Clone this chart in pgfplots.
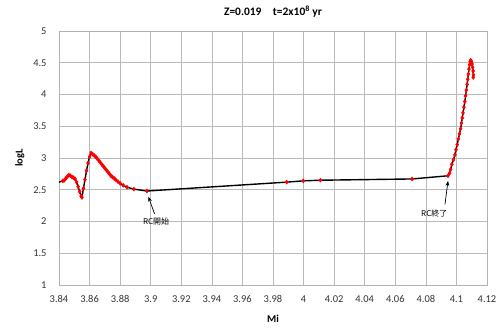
\documentclass[border=0pt]{standalone}
\usepackage{fontspec}
\setmainfont{Carlito}
\newfontfamily\cjk{Noto Sans CJK JP}
\usepackage{pgfplots}
\usetikzlibrary{arrows.meta}
\pgfplotsset{compat=1.18}
\begin{document}
\begin{tikzpicture}
\begin{axis}[
  scale only axis, width=428bp, height=254bp,
  xmin=3.84, xmax=4.12, ymin=1, ymax=5,
  xtick={3.84,3.86,...,4.121}, ytick={1,1.5,...,5.01},
  grid=major, grid style={gray!55, line width=0.6pt},
  axis line style={gray!60}, tick style={draw=none},
  xticklabel style={/pgf/number format/fixed,/pgf/number format/precision=2, yshift=-7pt},
  yticklabel style={/pgf/number format/fixed,/pgf/number format/precision=2, xshift=-9pt},
  /pgf/number format/assume math mode=true,
  ticklabel style={font=\fontsize{10.5}{12}\selectfont, text=black!80},
  xlabel={\textbf{Mi}}, ylabel={\textbf{logL}},
  xlabel style={yshift=-6pt}, ylabel style={yshift=2pt},
  label style={font=\fontsize{10.5}{12}\selectfont},
  title={\textbf{Z=0.019\quad t=2x10$^{\mathbf{8}}$ yr}},
  title style={font=\fontsize{11.5}{13}\selectfont, yshift=4pt},
  clip=false,
]
\addplot[black, line width=1.4pt, mark=diamond*, mark size=2pt,
  mark options={red, draw=red, fill=red, line width=0.5pt}]
coordinates {
(3.8425,2.64) (3.8435,2.65) (3.8445,2.68) (3.8455,2.71) (3.8465,2.73) (3.8475,2.72)
(3.8485,2.70) (3.8495,2.69) (3.8505,2.67) (3.8515,2.62) (3.8525,2.55) (3.8535,2.47)
(3.8545,2.40) (3.8550,2.38) (3.8560,2.52) (3.8570,2.66) (3.8580,2.80) (3.8590,2.92)
(3.8600,3.02) (3.8610,3.08) (3.8620,3.06) (3.8630,3.04) (3.8640,3.02) (3.8650,2.99)
(3.8660,2.96) (3.8670,2.93) (3.8680,2.90) (3.8690,2.87) (3.8700,2.84) (3.8710,2.81)
(3.8720,2.78) (3.8730,2.75) (3.8740,2.72) (3.8750,2.70) (3.8760,2.68) (3.8770,2.66)
(3.8785,2.63) (3.8800,2.60) (3.8820,2.57) (3.8845,2.54) (3.8890,2.51) (3.8975,2.48)
(3.9890,2.62) (3.9998,2.64) (4.0110,2.65) (4.0710,2.67) (4.0945,2.72)
(4.0955,2.76) (4.0962,2.82) (4.0970,2.90) (4.0980,2.97) (4.0990,3.05) (4.0997,3.13)
(4.1005,3.21) (4.1013,3.30) (4.1020,3.38) (4.1027,3.46) (4.1033,3.55) (4.1038,3.63)
(4.1043,3.71) (4.1049,3.80) (4.1055,3.89) (4.1060,3.98) (4.1065,4.07) (4.1070,4.16)
(4.1074,4.24) (4.1078,4.32) (4.1082,4.40) (4.1086,4.47) (4.1090,4.52) (4.1093,4.54)
(4.1098,4.52) (4.1102,4.48) (4.1106,4.43) (4.1109,4.37) (4.1111,4.31) (4.1110,4.27)
};
\addplot[black, line width=1.4pt, forget plot] coordinates {(3.84,2.62) (3.8425,2.64)};
\node[font=\cjk\fontsize{8}{9}\selectfont, inner sep=1pt] (a) at (axis cs:3.9035,2.0) {RC開始};
\draw[-{Stealth[length=5pt]}, black, line width=0.7pt] (axis cs:3.9025,2.12) -- (axis cs:3.8985,2.39);
\node[font=\cjk\fontsize{8}{9}\selectfont, inner sep=1pt] (b) at (axis cs:4.0855,2.13) {RC終了};
\draw[-{Stealth[length=5pt]}, black, line width=0.7pt] (axis cs:4.0925,2.27) -- (axis cs:4.0945,2.64);
\end{axis}
\path (current axis.south west) ++(-59bp,-47bp) coordinate (bl);
\path (current axis.north east) ++(13bp,31bp) coordinate (tr);
\path (bl) rectangle (tr);
\end{tikzpicture}
\end{document}
